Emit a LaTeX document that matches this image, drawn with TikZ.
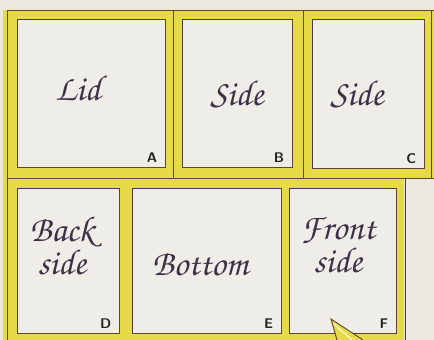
\documentclass[tikz,border=0pt]{standalone}
\usepackage[T1,TU]{fontenc}
\usepackage{tikz}
\usetikzlibrary{positioning, calc}
\definecolor{paper}{RGB}{236,232,222}
\definecolor{boxfill}{RGB}{239,237,231}
\definecolor{cardyellow}{RGB}{230,218,70}
\definecolor{frameline}{RGB}{95,70,45}
\definecolor{boxline}{RGB}{75,58,72}
\definecolor{inkgrey}{RGB}{60,50,70}
\newcommand\handwriting{\fontencoding{T1}\fontfamily{pzc}\fontseries{mb}\fontshape{it}\selectfont}
\tikzset{panel/.style={draw=boxline,fill=boxfill,line width=0.8pt,inner sep=0pt},
    shade edge/.style={draw=frameline,line width=1.6pt},
    frame/.style={draw=frameline,line width=0.9pt},
    script/.style={font=\handwriting\fontsize{36}{33}\selectfont,text=inkgrey,align=center,inner sep=0pt},
    letter/.style={font=\sffamily\bfseries\fontsize{14}{14}\selectfont,text=black!85,inner sep=0pt}}

\begin{document}
\begin{tikzpicture}[x=1pt,y=-1pt]
    \useasboundingbox (0,0) rectangle (434,340);
    \fill[paper] (0,0) rectangle (434,340);
    % yellow card
    \fill[cardyellow] (3,10) rectangle (434,178);
    \fill[cardyellow] (3,178) rectangle (404,340);
    \draw[frame] (434,10) -- (7,10) -- (7,340);
    \draw[frame] (7,178) -- (434,178);
    \draw[frame] (173,10) -- (173,178);
    \draw[frame] (303,10) -- (303,178);
    \draw[frame] (431,10) -- (431,178);
    \draw[draw=boxline,line width=0.9pt] (405,178) -- (405,340);

    \foreach \x/\y/\w/\h/\name in {91/93/148/148/A, 237/93/110/148/B, 368/93.5/112/149/C,
        68/260.5/102/145/D, 206.5/260.5/149/145/E, 342.5/260.5/107/145/F}
        \node[panel, minimum width=\w pt, minimum height=\h pt] (\name) at (\x,\y) {};

    % heavier right and bottom edges
    \foreach \name in {A,B,C,D,E,F}
        \draw[shade edge] (\name.north east) -- (\name.south east) -- (\name.south west);

    \foreach \name in {A,B,C,D,E,F}
        \node[letter, anchor=south east] at ([shift={(-8pt,5pt)}]\name.south east) {\name};

    \node[script] (lid) at (78,88) {Lid};
    \node[script] (sideB) at (237,94) {Side};
    \node[script] (sideC) at (357,94) {Side};
    \node[script] (back) at (62,245) {Back\\side};
    \node[script] (bottom) at (200,264) {Bottom};
    \node[script] (front) at (338,245) {Front\\side};

    % pointer
    \filldraw[fill=cardyellow, draw=frameline, line width=0.9pt]
        (363,340) -- (331,319) -- (337,340);
    \draw[white!80!cardyellow, line width=1.2pt] (334,324) -- (352,340);
\end{tikzpicture}
\end{document}
